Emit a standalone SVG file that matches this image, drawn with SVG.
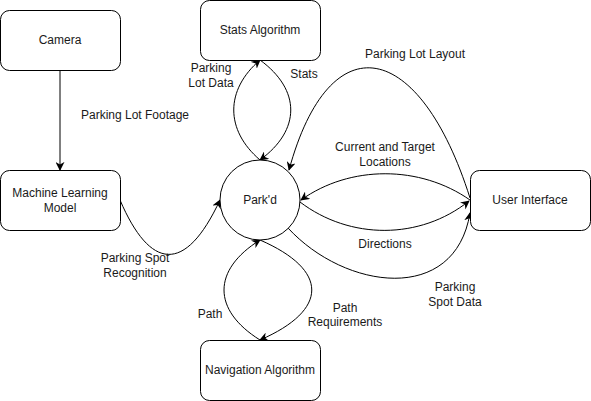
<svg xmlns="http://www.w3.org/2000/svg" width="591" height="401" viewBox="0 0 591 401">
<style>
.box{fill:#fff;stroke:#000;stroke-width:1}
.t{font-family:"Liberation Sans",Arial,sans-serif;font-size:12px;fill:#1a1a1a;text-anchor:middle;dominant-baseline:central}
.e{fill:none;stroke:#000;stroke-width:1}
</style>
<defs>
<marker id="a" viewBox="0 0 10 10" refX="9" refY="5" markerWidth="9" markerHeight="9" markerUnits="userSpaceOnUse" orient="auto">
<path d="M0,0 L10,5 L0,10 L3,5 z" fill="#000"/>
</marker>
</defs>
<rect width="591" height="401" fill="#fff"/>
<g id="edges">
<path class="e" d="M60,70 L60,170" marker-end="url(#a)"/>
<path class="e" d="M120,200 C150,270 185,275 220,200" marker-end="url(#a)"/>
<path class="e" d="M260,160 C225,130 225,90 260,60" marker-end="url(#a)"/>
<path class="e" d="M260,60 C301,90 301,130 260,160" marker-end="url(#a)"/>
<path class="e" d="M260,340 C212,310 212,270 260,240" marker-end="url(#a)"/>
<path class="e" d="M260,240 C329,270 329,310 260,340" marker-end="url(#a)"/>
<path class="e" d="M470,200 C420,165 350,165 301,200" marker-end="url(#a)"/>
<path class="e" d="M300,202 C350,240 420,240 469,201" marker-end="url(#a)"/>
<path class="e" d="M288,228 C345,290 455,305 470,213" marker-end="url(#a)"/>
<path class="e" d="M470,198 C420,40 330,20 289,170" marker-end="url(#a)"/>
</g>
<g id="edge-labels">
<text class="t" x="135" y="115">Parking Lot Footage</text>
<text class="t" x="135" y="258">Parking Spot</text>
<text class="t" x="135" y="273">Recognition</text>
<text class="t" x="211" y="68">Parking</text>
<text class="t" x="211" y="83">Lot Data</text>
<text class="t" x="304" y="74">Stats</text>
<text class="t" x="415" y="54">Parking Lot Layout</text>
<text class="t" x="385" y="147">Current and Target</text>
<text class="t" x="385" y="162">Locations</text>
<text class="t" x="385" y="244">Directions</text>
<text class="t" x="210" y="314">Path</text>
<text class="t" x="345" y="308">Path</text>
<text class="t" x="345" y="322">Requirements</text>
<text class="t" x="455" y="287">Parking</text>
<text class="t" x="455" y="302">Spot Data</text>
</g>
<g id="camera"><rect class="box" x="0.5" y="10.5" width="120" height="60" rx="9"/><text class="t" x="60" y="40">Camera</text></g>
<g id="ml"><rect class="box" x="0.5" y="170.5" width="120" height="60" rx="9"/><text class="t" x="60" y="193">Machine Learning</text><text class="t" x="60" y="208">Model</text></g>
<g id="stats"><rect class="box" x="200.5" y="0.5" width="120" height="60" rx="9"/><text class="t" x="260" y="30">Stats Algorithm</text></g>
<g id="nav"><rect class="box" x="200.5" y="340.5" width="120" height="60" rx="9"/><text class="t" x="260" y="370">Navigation Algorithm</text></g>
<g id="ui"><rect class="box" x="470.5" y="170.5" width="120" height="60" rx="9"/><text class="t" x="530" y="200">User Interface</text></g>
<g id="parkd"><circle class="box" cx="260" cy="200" r="40"/><text class="t" x="260" y="200">Park'd</text></g>
</svg>
